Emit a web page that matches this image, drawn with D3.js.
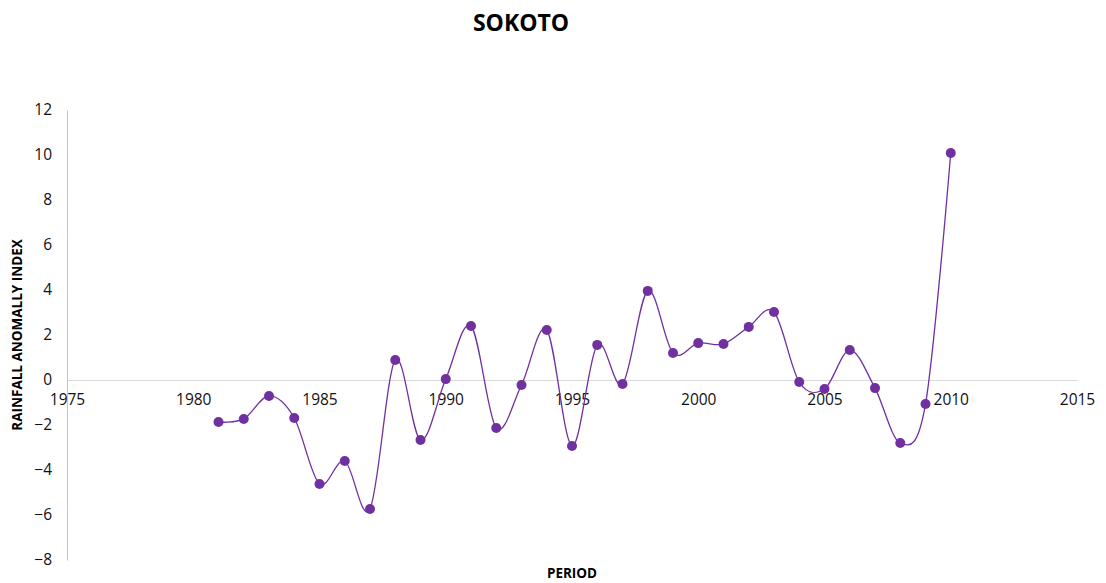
<!DOCTYPE html>
<html>
<head>
<meta charset="utf-8">
<script src="https://cdn.jsdelivr.net/npm/d3@7"></script>
<style>
  body { margin: 0; background: #fff; }
  text { font-family: "Open Sans", "Liberation Sans", sans-serif; }
</style>
</head>
<body>
<div id="chart"></div>
<script>
// Rainfall anomaly index values
var years = [1981, 1982, 1983, 1984, 1985, 1986, 1987, 1988, 1989, 1990,
             1991, 1992, 1993, 1994, 1995, 1996, 1997, 1998, 1999, 2000,
             2001, 2002, 2003, 2004, 2005, 2006, 2007, 2008, 2009, 2010];
var anomaly = [-1.87, -1.73, -0.71, -1.69, -4.62, -3.6, -5.73, 0.89, -2.67, 0.04,
               2.4, -2.13, -0.22, 2.22, -2.93, 1.56, -0.18, 3.96, 1.2, 1.64,
               1.6, 2.36, 3.02, -0.09, -0.4, 1.33, -0.36, -2.8, -1.07, 10.09];
var xTicks = [1975, 1980, 1985, 1990, 1995, 2000, 2005, 2010, 2015];
var yTicks = [-8, -6, -4, -2, 0, 2, 4, 6, 8, 10, 12];

var svgWidth = 1106;
var svgHeight = 583;
var margin = { top: 110, right: 29, bottom: 23, left: 67 };
var width = svgWidth - margin.left - margin.right;
var height = svgHeight - margin.top - margin.bottom;

var svg = d3.select("#chart")
    .append("svg")
    .attr("width", svgWidth)
    .attr("height", svgHeight);

var chartGroup = svg.append("g")
    .attr("transform", `translate(${margin.left}, ${margin.top})`);

var xScale = d3.scaleLinear().domain([1975, 2015]).range([0, width]);
var yScale = d3.scaleLinear().domain([-8, 12]).range([height, 0]);

var data = years.map((y, i) => ({ year: y, value: anomaly[i] }));

// horizontal axis sits on zero
var xAxis = chartGroup.append("g")
    .attr("transform", `translate(0, ${yScale(0)})`)
    .call(d3.axisBottom(xScale).tickValues(xTicks).tickFormat(d3.format("d")).tickSize(0).tickPadding(14));
xAxis.select(".domain").attr("stroke", "#d9d9d9").attr("stroke-width", 1);
xAxis.selectAll("text").attr("font-size", "15.5px").attr("fill", "#111");

var yAxis = chartGroup.append("g")
    .call(d3.axisLeft(yScale).tickValues(yTicks).tickSize(0).tickPadding(15));
yAxis.select(".domain").attr("stroke", "#bfc5d0").attr("stroke-width", 1);
yAxis.selectAll("text").attr("font-size", "15.5px").attr("fill", "#111");

// smoothed line
var line = d3.line()
    .x(d => xScale(d.year))
    .y(d => yScale(d.value))
    .curve(d3.curveCardinal.tension(0));

chartGroup.append("path")
    .datum(data)
    .attr("fill", "none")
    .attr("stroke", "#7030a0")
    .attr("stroke-width", 1.3)
    .attr("d", line);

chartGroup.selectAll("circle")
    .data(data)
    .enter()
    .append("circle")
    .attr("cx", d => xScale(d.year))
    .attr("cy", d => yScale(d.value))
    .attr("r", 5)
    .attr("fill", "#7030a0");

// titles
svg.append("text")
    .attr("x", 521)
    .attr("y", 31)
    .attr("text-anchor", "middle")
    .attr("font-size", "23px")
    .attr("font-weight", "bold")
    .text("SOKOTO");

svg.append("text")
    .attr("x", 572)
    .attr("y", 578)
    .attr("text-anchor", "middle")
    .attr("font-size", "13.5px")
    .attr("font-weight", "bold")
    .text("PERIOD");

svg.append("text")
    .attr("transform", "rotate(-90)")
    .attr("x", -335)
    .attr("y", 22)
    .attr("text-anchor", "middle")
    .attr("font-size", "13.5px")
    .attr("font-weight", "bold")
    .text("RAINFALL ANOMALLY INDEX");
</script>
</body>
</html>
